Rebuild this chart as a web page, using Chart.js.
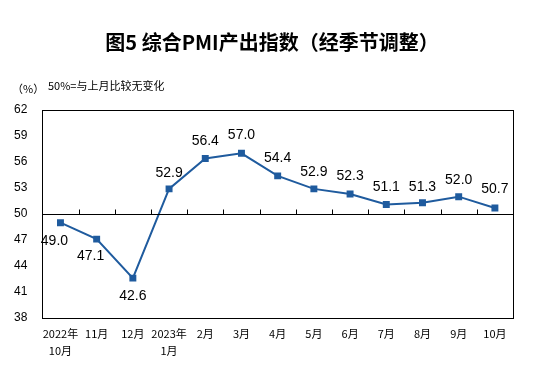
<!DOCTYPE html>
<html>
<head>
<meta charset="utf-8">
<script src="https://cdn.jsdelivr.net/npm/chart.js@4"></script>
<style>
  html, body { margin: 0; padding: 0; background: #fff; }
  #wrap { width: 542px; height: 383px; position: relative; }
</style>
</head>
<body>
<div id="wrap"><canvas id="myChart" width="542" height="383"></canvas></div>
<script>
// 月份
var months = [['2022年', '10月'], '11月', '12月', ['2023年', '1月'], '2月', '3月', '4月', '5月', '6月', '7月', '8月', '9月', '10月'];
// 综合PMI产出指数
var pmi = [49.0, 47.1, 42.6, 52.9, 56.4, 57.0, 54.4, 52.9, 52.3, 51.1, 51.3, 52.0, 50.7];
// y轴刻度
var yTicks = [38, 41, 44, 47, 50, 53, 56, 59, 62];

// 数据标签偏移 (dx, dy)
var labelOff = [[-6, 18], [-6, 17], [0, 18], [0, -16], [0, -17], [0, -18], [0, -18], [0, -17], [0, -18], [0, -17], [0, -16], [0, -17], [0, -19]];

var lineColor = '#1f5b9e';

const framePlugin = {
    id: 'frame',
    afterDraw: (chart) => {
        const ctx = chart.ctx;
        const a = chart.chartArea;
        const y = chart.scales.y;
        ctx.save();
        // 外框
        ctx.strokeStyle = '#000';
        ctx.lineWidth = 1;
        ctx.strokeRect(Math.round(a.left) + 0.5, Math.round(a.top) + 0.5, Math.round(a.right - a.left), Math.round(a.bottom - a.top));
        // 50 线
        const y50 = Math.round(y.getPixelForValue(50)) + 0.5;
        ctx.beginPath();
        ctx.moveTo(a.left, y50);
        ctx.lineTo(a.right, y50);
        const step = (a.right - a.left) / months.length;
        for (let i = 1; i < months.length; i++) {
            const px = Math.round(a.left + step * i) + 0.5;
            ctx.moveTo(px, y50);
            ctx.lineTo(px, y50 - 5);
        }
        ctx.stroke();
        // 数据标签
        ctx.fillStyle = '#000';
        ctx.font = '14px "Liberation Sans", Arial, sans-serif';
        ctx.textAlign = 'center';
        ctx.textBaseline = 'middle';
        const meta = chart.getDatasetMeta(0);
        meta.data.forEach((pt, i) => {
            ctx.fillText(pmi[i].toFixed(1), pt.x + labelOff[i][0], pt.y + labelOff[i][1]);
        });
        // 标题和说明
        ctx.font = 'bold 20px "Noto Sans CJK SC", sans-serif';
        ctx.fillText('图5 综合PMI产出指数（经季节调整）', 272, 42);
        ctx.font = '11px "Noto Sans CJK SC", sans-serif';
        ctx.textAlign = 'left';
        ctx.fillText('（%）', 12, 89);
        ctx.fillText('50%=与上月比较无变化', 48, 86);
        ctx.restore();
    }
};

const config = {
    type: 'line',
    data: {
        labels: months,
        datasets: [{
            data: pmi,
            borderColor: lineColor,
            backgroundColor: lineColor,
            borderWidth: 2,
            pointStyle: 'rect',
            pointRadius: 3.5,
            pointHoverRadius: 3.5,
            tension: 0
        }]
    },
    options: {
        responsive: false,
        animation: false,
        layout: { padding: { top: 110, right: 29, left: 7, bottom: 24 } },
        plugins: {
            legend: { display: false },
            tooltip: { enabled: false }
        },
        scales: {
            x: {
                offset: true,
                grid: { display: false },
                border: { display: false },
                ticks: {
                    color: '#000',
                    font: { size: 11, family: '"Noto Sans CJK SC", sans-serif', lineHeight: 1.5 },
                    maxRotation: 0,
                    autoSkip: false,
                    padding: 0
                }
            },
            y: {
                min: 38,
                max: 62,
                grid: { display: false },
                border: { display: false },
                afterBuildTicks: (s) => { s.ticks = yTicks.map(v => ({ value: v })); },
                ticks: {
                    color: '#000',
                    font: { size: 12, family: '"Liberation Sans", Arial, sans-serif' },
                    padding: 7
                }
            }
        }
    },
    plugins: [framePlugin]
};

new Chart(document.getElementById('myChart'), config);
</script>
</body>
</html>
